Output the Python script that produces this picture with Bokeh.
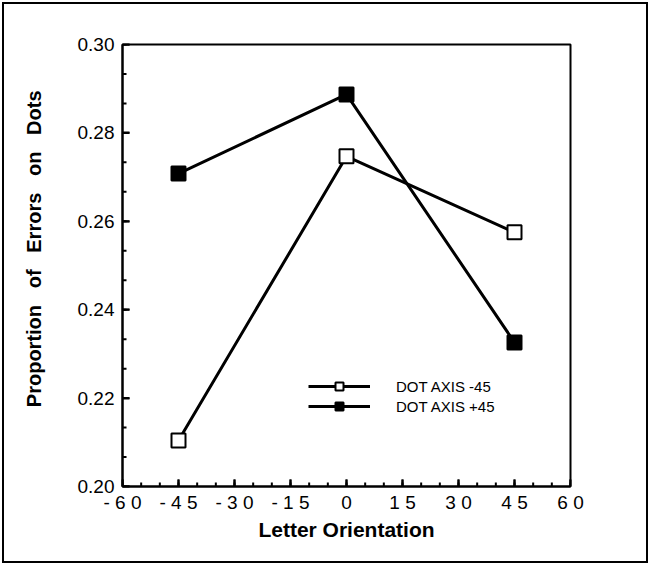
import numpy as np
from bokeh.plotting import figure
from bokeh.embed import file_html
from bokeh.resources import INLINE
from bokeh.models import (Range1d, FixedTicker, Legend, LegendItem,
                          PrintfTickFormatter)

orientation = [-45, 0, 45]
dot_axis_minus45 = [0.2104, 0.2747, 0.2575]
dot_axis_plus45 = [0.2708, 0.2887, 0.2326]
x_ticks = [-60, -45, -30, -15, 0, 15, 30, 45, 60]
y_ticks = [0.20, 0.22, 0.24, 0.26, 0.28, 0.30]

FONT = "Liberation Sans"
SP = "\u00a0"
FW, FH = 448, 442

p = figure(width=648, height=563, frame_width=FW, frame_height=FH,
           output_backend="svg", toolbar_location=None,
           x_range=Range1d(x_ticks[0], x_ticks[-1]), y_range=Range1d(y_ticks[0], y_ticks[-1]),
           min_border_left=118, min_border_top=40, min_border_right=76, min_border_bottom=75)
p.styles = {"border": "2px solid black", "box-sizing": "content-box", "margin": "2px"}
p.grid.visible = False
p.outline_line_color = "black"
p.outline_line_width = 2

xa = p.xaxis[0]
ya = p.yaxis[0]
for ax in (xa, ya):
    ax.axis_line_width = 2
    ax.major_tick_line_width = 2
    ax.minor_tick_line_width = 2
    ax.major_label_text_font = FONT
    ax.major_label_text_font_size = "19px"
    ax.major_label_text_color = "black"
    ax.axis_label_text_font = FONT
    ax.axis_label_text_font_style = "bold"
    ax.axis_label_text_color = "black"

xa.ticker = FixedTicker(ticks=x_ticks)
ya.ticker = FixedTicker(ticks=y_ticks)
xa.major_label_overrides = {v: ("- " + " ".join(str(abs(v))) if v < 0 else " ".join(str(v))) for v in x_ticks}
ya.formatter = PrintfTickFormatter(format="%.2f")
xa.major_tick_in = 7
xa.major_tick_out = 0
xa.minor_tick_in = 4
xa.minor_tick_out = 0
ya.major_tick_in = 7
ya.major_tick_out = 0
ya.minor_tick_in = 4
ya.minor_tick_out = 0
xa.major_label_standoff = 5
ya.major_label_standoff = 8
xa.axis_label = "Letter Orientation"
xa.axis_label_text_font_size = "21px"
ya.axis_label = (SP * 6 + "Proportion" + SP * 3 + "of" + SP * 3 + "Errors" + SP * 3 + "on" + SP * 3 + "Dots")
ya.axis_label_text_font_size = "20px"
xa.axis_label_standoff = 2
ya.axis_label_standoff = 30

# tick marks drawn as segments from the tick lists (inside the frame)
x0, x1 = x_ticks[0], x_ticks[-1]
y0, y1 = y_ticks[0], y_ticks[-1]
dx = (x1 - x0) / FW
dy = (y1 - y0) / FH
x_minor = np.arange(x0, x1 + 0.001, (x_ticks[1] - x_ticks[0]) / 3)
y_minor = np.linspace(y0, y1, 3 * (len(y_ticks) - 1) + 1)
p.segment(x0=x_minor, y0=[y0] * len(x_minor), x1=x_minor, y1=[y0 + 4 * dy] * len(x_minor),
          line_color="black", line_width=2)
p.segment(x0=x_ticks, y0=[y0] * len(x_ticks), x1=x_ticks, y1=[y0 + 7 * dy] * len(x_ticks),
          line_color="black", line_width=2)
p.segment(x0=[x0] * len(y_minor), y0=y_minor, x1=[x0 + 4 * dx] * len(y_minor), y1=y_minor,
          line_color="black", line_width=2)
p.segment(x0=[x0] * len(y_ticks), y0=y_ticks, x1=[x0 + 7 * dx] * len(y_ticks), y1=y_ticks,
          line_color="black", line_width=2)

l1 = p.line(orientation, dot_axis_minus45, line_color="black", line_width=3)
m1 = p.scatter(orientation, dot_axis_minus45, marker="square", size=14,
               fill_color="white", line_color="black", line_width=2)
l2 = p.line(orientation, dot_axis_plus45, line_color="black", line_width=3)
m2 = p.scatter(orientation, dot_axis_plus45, marker="square", size=14,
               fill_color="black", line_color="black", line_width=2)

legend = Legend(items=[LegendItem(label="DOT AXIS -45", renderers=[l1, m1]),
                       LegendItem(label="DOT AXIS +45", renderers=[l2, m2])],
                location=(186, 70), glyph_width=62, glyph_height=20,
                label_text_font=FONT, label_text_font_size="15px",
                label_text_color="black",
                label_standoff=26, spacing=-4, padding=2,
                border_line_color=None, background_fill_alpha=0)
p.add_layout(legend)

open("out.html", "w").write(file_html(p, INLINE))
